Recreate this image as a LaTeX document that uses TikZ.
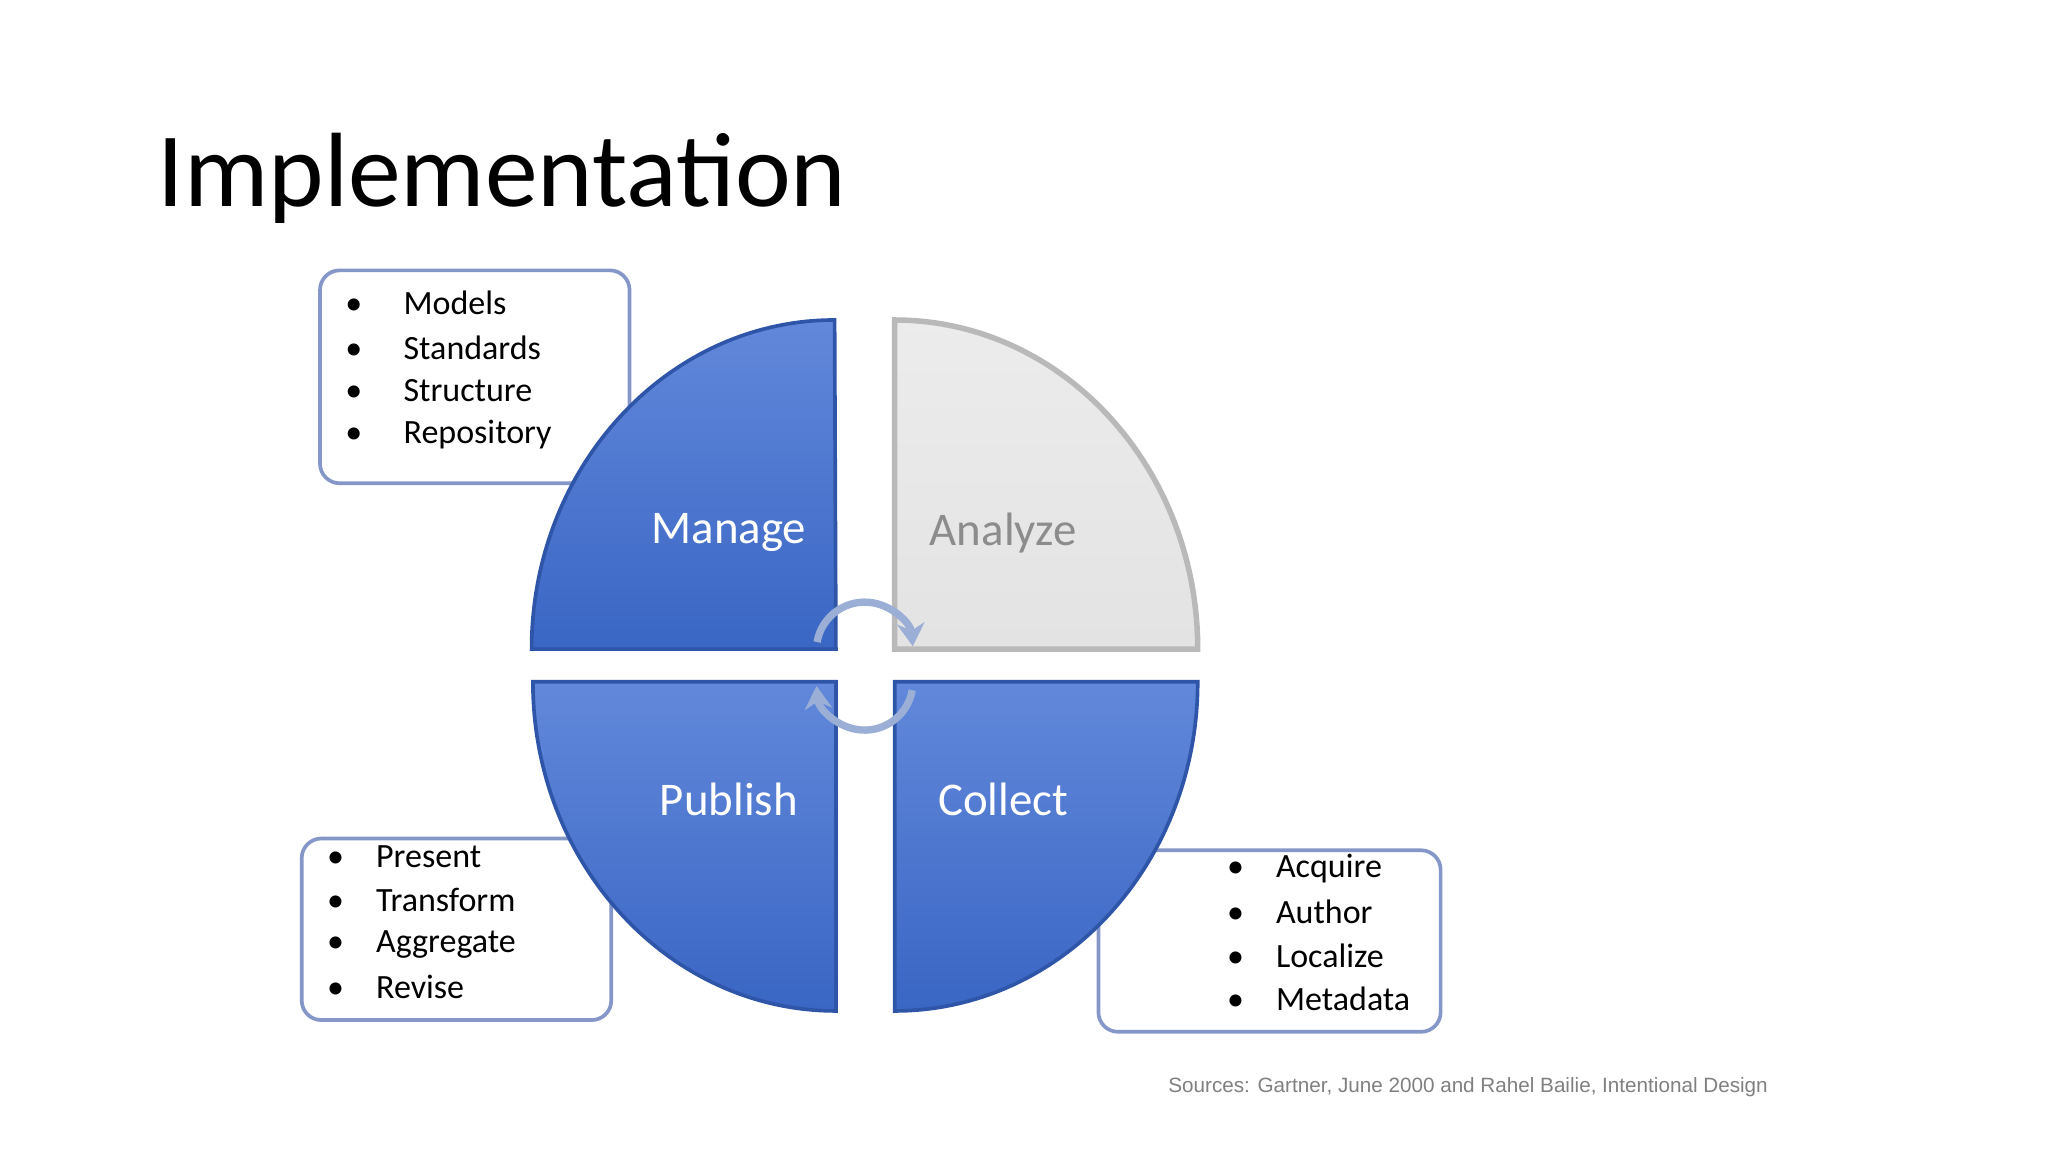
\documentclass[tikz,border=0pt]{standalone}
\usepackage{fontspec}
\setmainfont{Carlito}
\newfontfamily\srcfont{Liberation Sans}
\usetikzlibrary{arrows.meta}
\definecolor{qblue}{HTML}{4472C4}
\definecolor{qtop}{HTML}{6188DA}
\definecolor{qbot}{HTML}{3A66C4}
\definecolor{qedge}{HTML}{2F55A8}
\definecolor{bxedge}{HTML}{8497C8}
\definecolor{arr}{HTML}{9AAED6}
\tikzset{
  quad/.style={top color=qtop,bottom color=qbot,draw=qedge,line width=0.8pt},
  graysec/.style={top color=gray!15,bottom color=gray!22,draw=gray!55,line width=1.2pt},
  infobox/.style={draw=bxedge,fill=white,line width=0.8pt,rounded corners=0.15cm},
  qlabel/.style={font=\fontsize{10.2pt}{12pt}\selectfont,text=white},
  blt/.style={font=\fontsize{7.4pt}{9pt}\selectfont,anchor=west},
  cyc/.style={draw=arr,line width=1.6pt,-{Stealth[length=5pt,width=6pt]}}
}
\begin{document}
\begin{tikzpicture}[x=0.01cm,y=-0.01cm]
\useasboundingbox (0,0) rectangle (1568,882);
\fill[white] (0,0) rectangle (1568,882);
\node[anchor=base west,inner sep=0,font=\fontsize{23pt}{27pt}\selectfont] (title) at (120,158) {Implementation};
% boxes
\draw[infobox] (245,207) rectangle (482,370);
\draw[infobox] (231,642) rectangle (468,781);
\draw[infobox] (841,651) rectangle (1103,790);
% quadrants
\path[quad] (640,497) -- (407,497) arc[start angle=180,end angle=270,x radius=232,y radius=252] -- cycle;
\path[graysec] (685,497) -- (685,245) arc[start angle=270,end angle=360,x radius=232,y radius=252] -- cycle;
\path[quad] (640,522) -- (640,774) arc[start angle=90,end angle=180,x radius=232,y radius=252] -- cycle;
\path[quad] (685,522) -- (917,522) arc[start angle=0,end angle=90,x radius=232,y radius=252] -- cycle;
\node[qlabel] (manage) at (558,408) {Manage};
\node[qlabel,text=gray!90] (analyze) at (768,408) {Analyze};
\node[qlabel] (publish) at (558,612) {Publish};
\node[qlabel] (collect) at (768,612) {Collect};
% cycle arrows
\draw[cyc] (662,498) ++(190:37) arc[start angle=190,end angle=355,radius=37];
\draw[cyc] (662,522) ++(10:37) arc[start angle=10,end angle=175,radius=37];
% bullets
\foreach \t/\y in {Models/232,Standards/266,Structure/299,Repository/333}
  \node[blt] at (252,\y) {\textbullet\hspace{9pt}\t};
\foreach \t/\y in {Present/656,Transform/689,Aggregate/723,Revise/756}
  \node[blt] at (238,\y) {\textbullet\hspace{7pt}\t};
\foreach \t/\y in {Acquire/665,Author/698,Localize/732,Metadata/765}
  \node[blt] at (927,\y) {\textbullet\hspace{7pt}\t};
\node[font=\srcfont\fontsize{4.5pt}{5pt}\selectfont,text=gray] (src) at (1124,832) {Sources: Gartner, June 2000 and Rahel Bailie, Intentional Design};
\end{tikzpicture}
\end{document}
